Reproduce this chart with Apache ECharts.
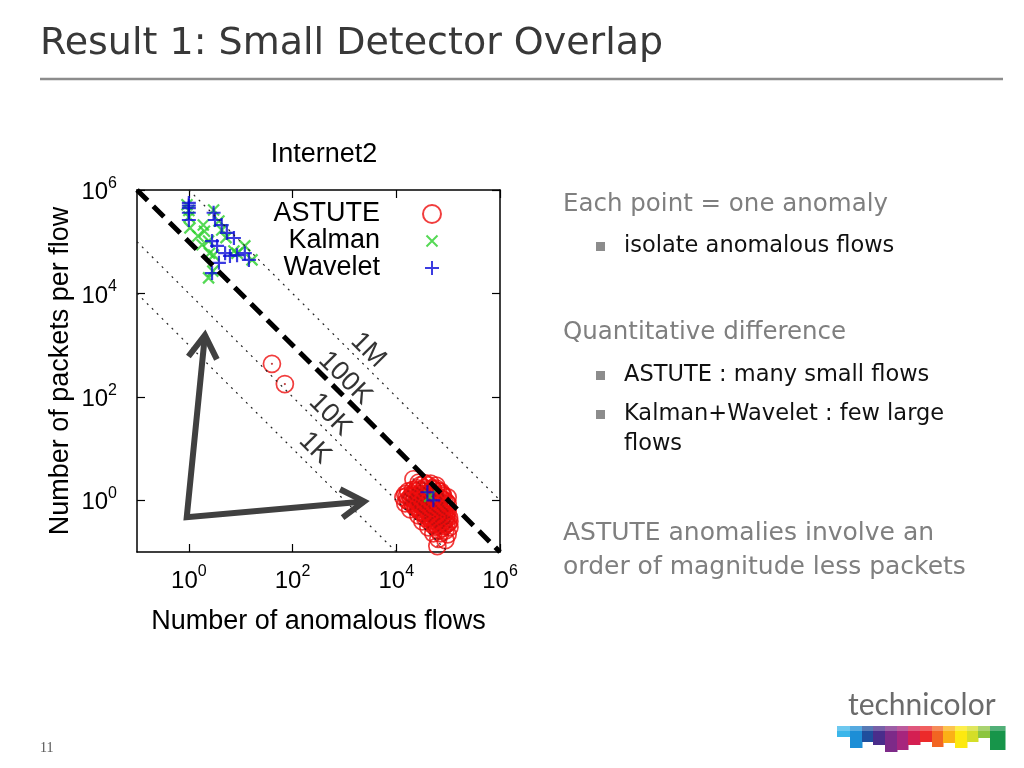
<!DOCTYPE html>
<html><head><meta charset="utf-8">
<script src="https://cdn.jsdelivr.net/npm/echarts@6/dist/echarts.min.js"></script>
<style>html,body{margin:0;padding:0;background:#fff}#c{width:1024px;height:768px}</style>
</head><body><div id="c"></div>
<script>
// ---------- data ----------
const seriesNames = ['ASTUTE', 'Kalman', 'Wavelet'];
const majorTicks = [1, 100, 1e4, 1e6];
const contourLevels = [1e3, 1e4, 1e5, 1e6];
const contourLabels = ['1K', '10K', '100K', '1M'];
const contourLabelPos = [[270, 10.2], [530, 45], [1030, 230], [2880, 800]];
const arrowOrigin = [0.91, 0.47];
const arrowUpTip = [2.04, 1560];
const arrowRightTip = [2400, 0.95];

const astuteData = [
  [40, 436], [71, 177],
  [21400, 2.55],
  [27000, 2.2], [35000, 2.15], [46000, 2.1],
  [29000, 1.95], [41500, 1.95], [59000, 1.92],
  [25500, 1.71], [34700, 1.73], [49700, 1.7], [59000, 1.69],
  [21000, 1.6], [28000, 1.6], [38000, 1.62], [52000, 1.6],
  [17000, 1.49], [23400, 1.5], [31800, 1.48], [45300, 1.49], [64700, 1.5], [72000, 1.47],
  [14900, 1.31], [20400, 1.3], [27800, 1.32], [37900, 1.31], [54000, 1.3], [77300, 1.31],
  [16000, 1.22], [21500, 1.22], [29500, 1.22], [40000, 1.22], [57000, 1.22], [80000, 1.22],
  [13700, 1.14], [18600, 1.15], [25500, 1.13], [34700, 1.14], [49700, 1.15], [70600, 1.13], [98000, 1.14],
  [19500, 1.07], [26500, 1.07], [36000, 1.07], [52000, 1.07], [74000, 1.07],
  [16300, 1.0], [22300, 1.01], [30400, 0.99], [41500, 1.0], [59000, 1.01], [85000, 0.99],
  [17500, 0.94], [25000, 0.94], [34000, 0.94], [47000, 0.94], [67000, 0.94], [92000, 0.93],
  [14900, 0.87], [20400, 0.88], [27800, 0.87], [37900, 0.88], [54000, 0.87], [77300, 0.88], [98000, 0.86],
  [21000, 0.82], [28500, 0.82], [39000, 0.82], [54000, 0.82], [74000, 0.82],
  [23400, 0.76], [31800, 0.77], [43400, 0.76], [59000, 0.77], [81000, 0.76],
  [23500, 0.71], [33000, 0.72], [45000, 0.71], [63000, 0.71], [86000, 0.71],
  [18600, 0.67], [26700, 0.67], [36300, 0.68], [49700, 0.66], [67800, 0.67], [92700, 0.67],
  [28500, 0.62], [39000, 0.62], [53000, 0.62], [72000, 0.62], [98000, 0.62],
  [30400, 0.59], [41500, 0.58], [56800, 0.59], [77300, 0.58],
  [33000, 0.55], [46000, 0.55], [62000, 0.55], [85000, 0.55],
  [26700, 0.51], [36300, 0.51], [49700, 0.52], [67800, 0.51], [92700, 0.5],
  [40000, 0.48], [56000, 0.48], [78000, 0.48], [104000, 0.47],
  [36300, 0.45], [49700, 0.45], [67800, 0.44], [92700, 0.45],
  [46000, 0.42], [63000, 0.42], [86000, 0.41],
  [31800, 0.39], [43400, 0.39], [59000, 0.39], [81000, 0.38], [106000, 0.39],
  [54000, 0.36], [75000, 0.36], [100000, 0.36],
  [49700, 0.34], [67800, 0.34], [92700, 0.35],
  [60000, 0.32], [82000, 0.32],
  [41500, 0.3], [56800, 0.3], [77300, 0.29], [106000, 0.3],
  [64700, 0.26], [88600, 0.26],
  [51800, 0.23], [70600, 0.23], [98000, 0.22],
  [64700, 0.18], [88600, 0.17],
  [61900, 0.13]
];
const kalmanData = [
  [0.92, 520000], [1.0, 400000], [1.0, 300000], [1.05, 185000], [1.5, 129000], [1.9, 210000],
  [2.0, 160000], [2.4, 103000], [1.8, 87000], [2.5, 60000], [3.0, 55000], [2.9, 27000],
  [2.4, 20000], [3.8, 251000], [4.3, 169000], [3.0, 410000], [5.2, 120000], [7.4, 66000],
  [8.5, 60000], [12, 83000], [16.5, 44500], [44000, 1.2]
];
const waveletData = [
  [1.0, 562000], [1.0, 500000], [1.0, 447000], [1.0, 363000], [1.0, 263000], [3.0, 363000],
  [3.2, 263000], [4.3, 210000], [5.4, 148000], [7.4, 118000], [2.8, 103000], [3.5, 83000],
  [5.0, 60000], [6.2, 53000], [8.5, 55000], [12, 60000], [14.4, 44500], [3.8, 39000],
  [2.8, 24700], [39800, 1.43], [51800, 1.0]
];

// ---------- styling ----------
const FONT = '"Liberation Sans", Arial, sans-serif';
const SLIDE_FONT = '"DejaVu Sans", sans-serif';
const AX_MIN = 0.1, AX_MAX = 1e6;
const RED = '#ee0d0d', GREEN = '#2bd02b', BLUE = '#0a0ad8';

const chart = echarts.init(document.getElementById('c'), null, {renderer: 'canvas'});

function expLabel(v) {
  const e = Math.round(Math.log10(v));
  return '{b|10}{s|' + e + '}';
}
const richLabel = {
  b: {fontSize: 24, fontFamily: FONT, color: '#000', lineHeight: 29, verticalAlign: 'bottom'},
  s: {fontSize: 16, fontFamily: FONT, color: '#000', lineHeight: 16, verticalAlign: 'top'}
};

function makeAxis(pos, isMain, isX) {
  return {
    type: 'log', logBase: 10, min: AX_MIN, max: AX_MAX, position: pos, gridIndex: 0,
    axisLine: {show: true, onZero: false, lineStyle: {color: '#000', width: 1.5}},
    axisTick: {show: true, inside: true, length: 8, customValues: majorTicks, lineStyle: {color: '#000', width: 1.2}},
    axisLabel: {show: isMain, customValues: majorTicks, formatter: expLabel, margin: isX ? 12 : 20, rich: richLabel},
    splitLine: {show: false}, minorTick: {show: false}, minorSplitLine: {show: false},
    name: isMain ? (isX ? 'Number of anomalous flows' : 'Number of packets per flow') : '',
    nameLocation: 'middle', nameGap: isX ? 56 : 63,
    nameTextStyle: {fontSize: 27, fontFamily: FONT, color: '#000'}
  };
}

function contourLine(L) {
  const x0 = Math.max(AX_MIN, L / AX_MAX), x1 = Math.min(AX_MAX, L / AX_MIN);
  return [[x0, L / x0], [x1, L / x1]];
}

const plusPath = 'path://M0,5L10,5M5,0L5,10';
const crossPath = 'path://M0,0L10,10M10,0L0,10';
// legend icons with invisible padding so they come out at the reference sizes
const legendCircle = 'path://M9,0.5A8.5,8.5 0 1 1 8.99,0.5Z';
const legendCross = 'path://M0,0M3.5,3.5L14.5,14.5M14.5,3.5L3.5,14.5M18,18';
const legendPlus = 'path://M0,0M2,9L16,9M9,2L9,16M18,18';

const series = [
  {name: 'ASTUTE', type: 'scatter', data: astuteData, symbol: 'circle', symbolSize: 17,
   itemStyle: {color: 'rgba(0,0,0,0)', borderColor: RED, borderWidth: 1.7}, z: 2, silent: true},
  {name: 'ASTUTE dots', type: 'scatter', data: astuteData, symbol: 'circle', symbolSize: 2.2,
   itemStyle: {color: '#b01010'}, z: 2, silent: true},
  {name: 'Kalman', type: 'scatter', data: kalmanData, symbol: crossPath, symbolSize: 11,
   itemStyle: {color: 'rgba(0,0,0,0)', borderColor: GREEN, borderWidth: 2.2}, z: 3, silent: true},
  {name: 'Wavelet', type: 'scatter', data: waveletData, symbol: plusPath, symbolSize: 14,
   itemStyle: {color: 'rgba(0,0,0,0)', borderColor: BLUE, borderWidth: 2.2}, z: 4, silent: true}
];
contourLevels.forEach(function (L, i) {
  const main = L === 1e5;
  series.push({
    name: 'level ' + contourLabels[i], type: 'line', data: contourLine(L), symbol: 'none', silent: true,
    z: main ? 6 : 5,
    lineStyle: main ? {color: '#000', width: 5, type: [15, 8]} : {color: '#222', width: 1.2, type: [2, 5]}
  });
});
series.push({
  name: 'level labels', type: 'scatter', silent: true, z: 7,
  data: contourLabelPos.map(function (p, i) { return {value: p, name: contourLabels[i]}; }),
  symbol: 'circle', symbolSize: 1, itemStyle: {color: 'rgba(0,0,0,0)'},
  label: {show: true, position: 'inside', formatter: '{b}', rotate: -45, fontSize: 27, fontFamily: FONT, color: '#000'}
});

const option = {
  animation: false,
  backgroundColor: '#fff',
  title: {text: 'Internet2', left: 319, top: 136, textAlign: 'center',
          textStyle: {fontSize: 27, fontWeight: 'normal', fontFamily: FONT, color: '#000'}},
  legend: {
    data: [
      {name: 'ASTUTE', icon: legendCircle},
      {name: 'Kalman', icon: legendCross},
      {name: 'Wavelet', icon: legendPlus}
    ],
    orient: 'vertical', left: 263, top: 195.5, align: 'right',
    itemGap: 0, itemWidth: 18, itemHeight: 18, selectedMode: false,
    formatter: function (n) { return '{n|' + n + '}{g|}'; },
    textStyle: {fontFamily: FONT, fontSize: 27, color: '#000',
      rich: {n: {width: 112, align: 'right', fontSize: 27, fontFamily: FONT, lineHeight: 26.5}, g: {width: 38, lineHeight: 26.5}}}
  },
  grid: {left: 137, top: 190, width: 363, height: 362, show: false},
  xAxis: [makeAxis('bottom', true, true), makeAxis('top', false, true)],
  yAxis: [makeAxis('left', true, false), makeAxis('right', false, false)],
  series: series
};
chart.setOption(option);

// ---------- slide decoration & annotations ----------
const finder = {xAxisIndex: 0, yAxisIndex: 0};
const pO = chart.convertToPixel(finder, arrowOrigin);
const pU = chart.convertToPixel(finder, arrowUpTip);
const pR = chart.convertToPixel(finder, arrowRightTip);
function chevron(tip, from) {
  const dx = tip[0] - from[0], dy = tip[1] - from[1];
  const len = Math.sqrt(dx * dx + dy * dy), ux = dx / len, uy = dy / len;
  const L = 27, a = 32 * Math.PI / 180;
  const c = Math.cos(a), s = Math.sin(a);
  const b1 = [tip[0] - L * (ux * c - uy * s), tip[1] - L * (uy * c + ux * s)];
  const b2 = [tip[0] - L * (ux * c + uy * s), tip[1] - L * (uy * c - ux * s)];
  return [b1, tip, b2];
}
const ARROW = '#404040';
const arrowStyle = {stroke: ARROW, lineWidth: 6, fill: null, lineJoin: 'miter'};
const graphics = [
  {type: 'polyline', shape: {points: [pU, pO, pR]}, style: arrowStyle, z: 10},
  {type: 'polyline', shape: {points: chevron(pU, pO)}, style: arrowStyle, z: 10},
  {type: 'polyline', shape: {points: chevron(pR, pO)}, style: arrowStyle, z: 10},
  // slide title + rule
  {type: 'text', x: 40, y: 44, style: {text: 'Result 1: Small Detector Overlap', fontSize: 38, fontFamily: SLIDE_FONT, fill: '#383838', verticalAlign: 'middle'}},
  {type: 'line', shape: {x1: 40, y1: 79, x2: 1003, y2: 79}, style: {stroke: '#8c8c8c', lineWidth: 2.5}},
  // right-hand text
  {type: 'text', x: 563, y: 205, style: {text: 'Each point = one anomaly', fontSize: 24.5, fontFamily: SLIDE_FONT, fill: '#7f7f7f', verticalAlign: 'middle'}},
  {type: 'rect', shape: {x: 596, y: 242, width: 9, height: 9}, style: {fill: '#8c8c8c'}},
  {type: 'text', x: 624, y: 246, style: {text: 'isolate anomalous flows', fontSize: 22.5, fontFamily: SLIDE_FONT, fill: '#111', verticalAlign: 'middle'}},
  {type: 'text', x: 563, y: 333, style: {text: 'Quantitative difference', fontSize: 24.5, fontFamily: SLIDE_FONT, fill: '#7f7f7f', verticalAlign: 'middle'}},
  {type: 'rect', shape: {x: 596, y: 371, width: 9, height: 9}, style: {fill: '#8c8c8c'}},
  {type: 'text', x: 624, y: 375, style: {text: 'ASTUTE : many small flows', fontSize: 22.5, fontFamily: SLIDE_FONT, fill: '#111', verticalAlign: 'middle'}},
  {type: 'rect', shape: {x: 596, y: 410, width: 9, height: 9}, style: {fill: '#8c8c8c'}},
  {type: 'text', x: 624, y: 414, style: {text: 'Kalman+Wavelet : few large', fontSize: 22.5, fontFamily: SLIDE_FONT, fill: '#111', verticalAlign: 'middle'}},
  {type: 'text', x: 624, y: 444, style: {text: 'flows', fontSize: 22.5, fontFamily: SLIDE_FONT, fill: '#111', verticalAlign: 'middle'}},
  {type: 'text', x: 563, y: 533, style: {text: 'ASTUTE anomalies involve an', fontSize: 25, fontFamily: SLIDE_FONT, fill: '#7f7f7f', verticalAlign: 'middle'}},
  {type: 'text', x: 563, y: 567, style: {text: 'order of magnitude less packets', fontSize: 25, fontFamily: SLIDE_FONT, fill: '#7f7f7f', verticalAlign: 'middle'}},
  // page number
  {type: 'text', x: 40, y: 748, style: {text: '11', fontSize: 14, fontFamily: '"Liberation Serif", serif', fill: '#555', verticalAlign: 'middle'}},
  // logo
  {type: 'text', x: 848, y: 705, style: {text: 'technicolor', fontSize: 30, fontFamily: 'Lato, "Open Sans", sans-serif', fill: '#6b6b6b', verticalAlign: 'middle'}}
];
const logoBlocks = [
  [837, 850, 737, '#3cb6ea'], [850, 862, 748, '#1d8ed6'], [862, 873, 742, '#1f4e9d'], [873, 885, 745, '#4a2d8b'],
  [885, 897, 752, '#7d2a88'], [897, 908, 750, '#a6257d'], [908, 920, 745, '#d41f52'], [920, 932, 742, '#ec2a2a'],
  [932, 943, 747, '#f26522'], [943, 955, 743, '#fbb016'], [955, 967, 748, '#fde910'], [967, 978, 742, '#d4de27'],
  [978, 990, 738, '#8cc540'], [990, 1005, 750, '#17954a']
];
logoBlocks.forEach(function (b) {
  graphics.push({type: 'rect', shape: {x: b[0], y: 726, width: b[1] - b[0] + 0.5, height: b[2] - 726}, style: {fill: b[3]}});
  graphics.push({type: 'rect', shape: {x: b[0], y: 726, width: b[1] - b[0] + 0.5, height: 5}, style: {fill: 'rgba(255,255,255,0.25)'}});
});
chart.setOption({graphic: graphics});
</script>
</body></html>
